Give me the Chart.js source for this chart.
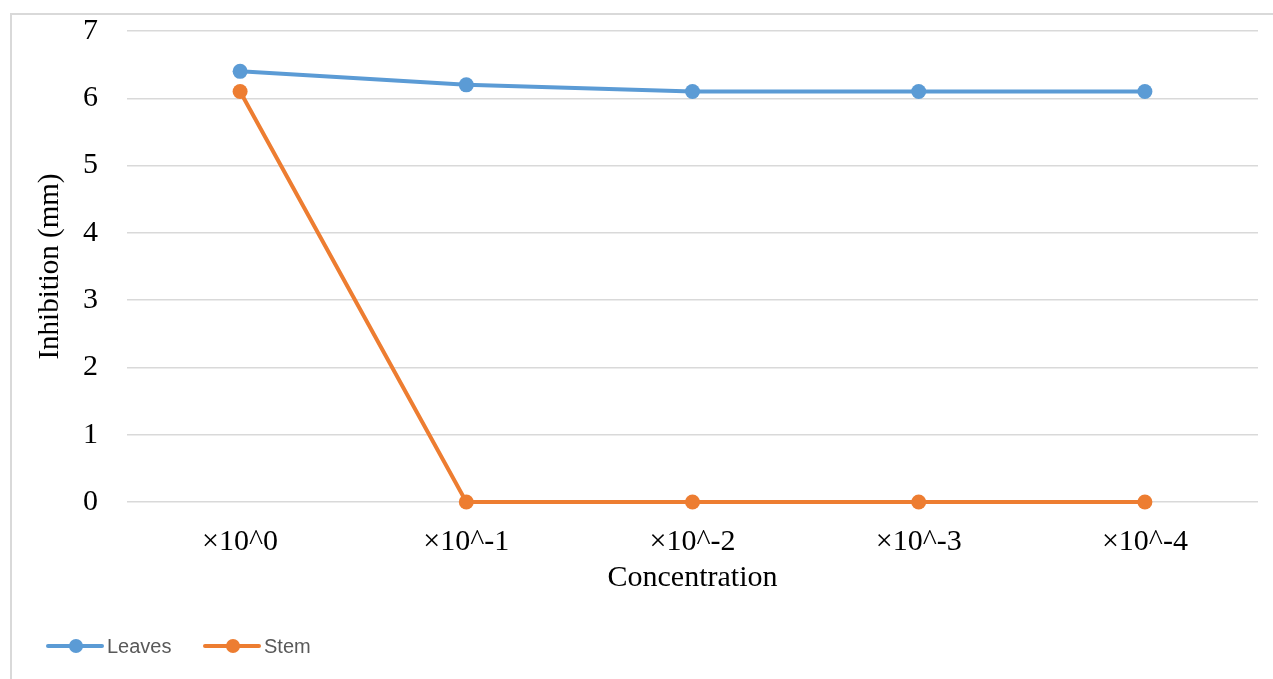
<!DOCTYPE html>
<html>
<head>
<meta charset="utf-8">
<script src="https://cdn.jsdelivr.net/npm/chart.js@4"></script>
<style>
  html, body { margin: 0; padding: 0; background: #fff; overflow: hidden; }
  #wrap { position: relative; width: 1273px; height: 679px; }
  #frame { position: absolute; left: 10px; top: 13px; width: 1300px; height: 700px;
           border: 2.5px solid #D9D9D9; box-sizing: border-box; }
  #myChart { position: absolute; left: 0; top: 0; }
</style>
</head>
<body>
<div id="wrap">
  <div id="frame"></div>
  <canvas id="myChart" width="1273" height="679"></canvas>
</div>
<script>
// valores
let categorias = ["×10^0", "×10^-1", "×10^-2", "×10^-3", "×10^-4"];
let hojas = [6.4, 6.2, 6.1, 6.1, 6.1];
let tallo = [6.1, 0, 0, 0, 0];
let yTicks = [0, 1, 2, 3, 4, 5, 6, 7];

let azul = "#5B9BD5";
let naranja = "#ED7D31";

// leyenda tipo excel: linea con punto
const leyendaExcel = {
    id: "leyendaExcel",
    afterDraw(chart, args, opts) {
        const ctx = chart.ctx;
        ctx.save();
        chart.data.datasets.forEach(function (ds, i) {
            let x = opts.starts[i];
            let y = opts.y;
            ctx.strokeStyle = ds.borderColor;
            ctx.lineWidth = 4;
            ctx.lineCap = "round";
            ctx.beginPath();
            ctx.moveTo(x, y);
            ctx.lineTo(x + 54, y);
            ctx.stroke();
            ctx.fillStyle = ds.borderColor;
            ctx.beginPath();
            ctx.arc(x + 28, y, 7, 0, Math.PI * 2);
            ctx.fill();
            ctx.fillStyle = "#595959";
            ctx.font = "20px 'Liberation Sans', sans-serif";
            ctx.textBaseline = "middle";
            ctx.fillText(ds.label, x + 59, y + 1);
        });
        ctx.restore();
    }
};

new Chart("myChart", {
    type: "line",
    data: {
        labels: categorias,
        datasets: [{
            label: "Leaves",
            data: hojas,
            borderColor: azul,
            backgroundColor: azul,
            borderWidth: 4,
            pointRadius: 7.5,
            pointBorderWidth: 0,
            pointBackgroundColor: azul,
            tension: 0,
            clip: false
        }, {
            label: "Stem",
            data: tallo,
            borderColor: naranja,
            backgroundColor: naranja,
            borderWidth: 4,
            pointRadius: 7.5,
            pointBorderWidth: 0,
            pointBackgroundColor: naranja,
            tension: 0,
            clip: false
        }]
    },
    options: {
        responsive: false,
        animation: false,
        layout: { autoPadding: false, padding: { left: 0, top: 31, right: 15, bottom: 79 } },
        plugins: {
            legend: { display: false },
            tooltip: { enabled: false },
            leyendaExcel: { starts: [48, 205], y: 646 }
        },
        scales: {
            x: {
                offset: true,
                grid: { display: false },
                border: { display: false },
                ticks: {
                    color: "#000",
                    padding: 14,
                    maxRotation: 0,
                    font: { family: "'Liberation Serif', 'Times New Roman', serif", size: 30 }
                },
                title: {
                    display: true,
                    text: "Concentration",
                    color: "#000",
                    padding: { top: 0, bottom: 4 },
                    font: { family: "'Liberation Serif', 'Times New Roman', serif", size: 30 }
                },
                afterFit: function (scale) { scale.height = 98; }
            },
            y: {
                min: 0,
                max: 7,
                afterBuildTicks: function (scale) {
                    scale.ticks = yTicks.map(function (v) { return { value: v }; });
                },
                grid: { color: "#D9D9D9", lineWidth: 1.5, drawTicks: false },
                border: { display: false },
                ticks: {
                    color: "#000",
                    padding: 29,
                    font: { family: "'Liberation Serif', 'Times New Roman', serif", size: 30 }
                },
                title: {
                    display: true,
                    text: "Inhibition (mm)",
                    color: "#000",
                    padding: { top: 33, bottom: 0 },
                    font: { family: "'Liberation Serif', 'Times New Roman', serif", size: 29 }
                },
                afterFit: function (scale) {
                    scale.width = 127;
                    scale.paddingTop = 0;
                    scale.paddingBottom = 0;
                }
            }
        }
    },
    plugins: [leyendaExcel]
});
</script>
</body>
</html>
